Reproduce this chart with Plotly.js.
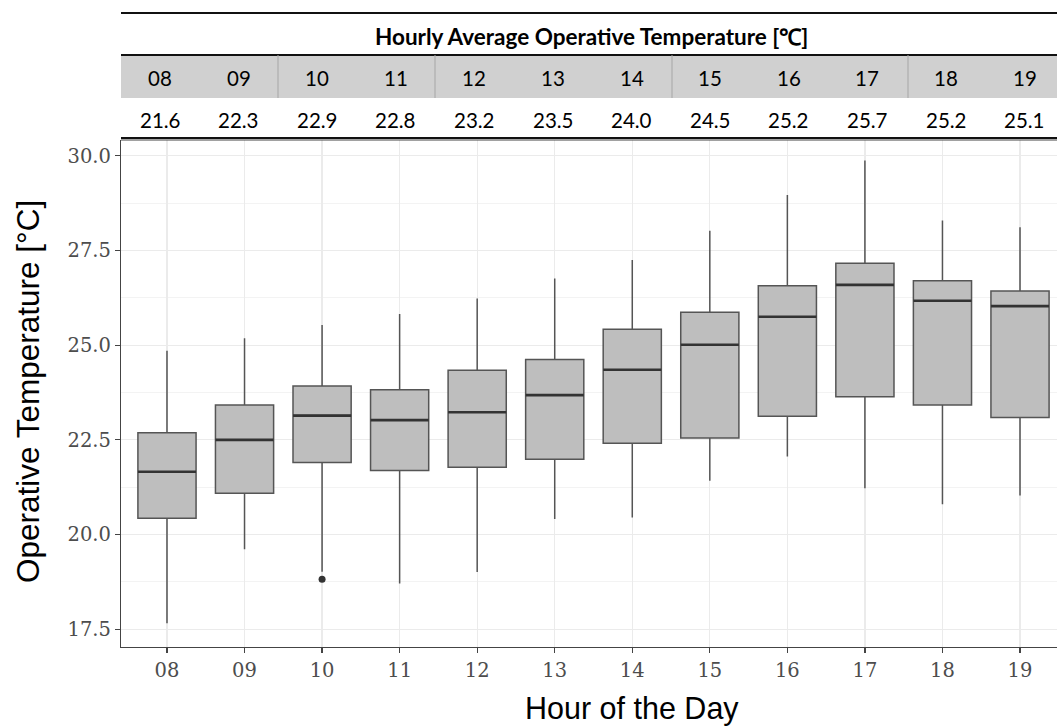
<!DOCTYPE html>
<html><head><meta charset="utf-8">
<script src="https://cdn.plot.ly/plotly-3.0.1.min.js"></script>
<style>html,body{margin:0;padding:0;background:#fff;overflow:hidden}#chart{width:1057px;height:727px}</style>
</head><body><div id="chart"></div>
<script>
// ---- data ----
const hours = ['08','09','10','11','12','13','14','15','16','17','18','19'];
const lowerWhisker = [17.66, 19.61, 19.02, 18.71, 19.01, 20.41, 20.45, 21.42, 22.06, 21.22, 20.80, 21.03];
const q1           = [20.43, 21.09, 21.90, 21.69, 21.78, 21.99, 22.41, 22.55, 23.12, 23.64, 23.42, 23.09];
const median       = [21.66, 22.50, 23.14, 23.02, 23.23, 23.68, 24.35, 25.01, 25.75, 26.59, 26.17, 26.03];
const q3           = [22.69, 23.42, 23.92, 23.82, 24.34, 24.62, 25.42, 25.87, 26.57, 27.16, 26.70, 26.43];
const upperWhisker = [24.85, 25.18, 25.53, 25.82, 26.23, 26.76, 27.25, 28.02, 28.96, 29.87, 28.29, 28.11];
const outlierHours = ['10'];
const outlierValues = [18.82];
const hourlyAverage = [21.6, 22.3, 22.9, 22.8, 23.2, 23.5, 24.0, 24.5, 25.2, 25.7, 25.2, 25.1];
const yTickValues = [17.5, 20, 22.5, 25, 27.5, 30];
const tableTitle = 'Hourly Average Operative Temperature [℃]';

// ---- geometry helpers (pixel -> paper) ----
const W = 1057, H = 727, ML = 121, MR = 0, MT = 140, MB = 80;
const PW = W - ML - MR, PH = H - MT - MB;
const px = v => (v - ML) / PW;
const py = v => (H - MB - v) / PH;

const traces = [
  {
    type: 'box', x: hours, q1: q1, median: median, q3: q3,
    lowerfence: lowerWhisker, upperfence: upperWhisker,
    width: 0.75, whiskerwidth: 0, boxpoints: false,
    fillcolor: '#bebebe', line: {color: '#555555', width: 1.5},
    hoverinfo: 'skip', showlegend: false
  },
  {
    type: 'scatter', mode: 'markers', x: hours, y: median,
    marker: {symbol: 'line-ew', size: 41.5, line: {color: '#333333', width: 2.6}},
    hoverinfo: 'skip', showlegend: false
  },
  {
    type: 'scatter', mode: 'markers', x: outlierHours, y: outlierValues,
    marker: {symbol: 'circle', size: 7, color: '#333333'},
    hoverinfo: 'skip', showlegend: false
  }
];

const shapes = [
  {type:'rect', xref:'paper', yref:'paper', x0:0, x1:1, y0:py(98), y1:py(55), fillcolor:'#d0d0d0', line:{width:0}, layer:'below'},
  {type:'line', xref:'paper', yref:'paper', x0:0, x1:1, y0:py(13), y1:py(13), line:{color:'#111', width:2}},
  {type:'line', xref:'paper', yref:'paper', x0:0, x1:1, y0:py(55), y1:py(55), line:{color:'#111', width:2}},
  {type:'line', xref:'paper', yref:'paper', x0:0, x1:1, y0:py(138), y1:py(138), line:{color:'#111', width:2}},
  {type:'line', xref:'paper', yref:'paper', x0:0, x1:1, y0:1, y1:1, line:{color:'#444', width:1.2}}
];
[278, 435, 672, 908].forEach(d => shapes.push({type:'line', xref:'paper', yref:'paper', x0:px(d), x1:px(d), y0:py(98), y1:py(55), line:{color:'#a6a6a6', width:1}}));

const annotations = [
  {text: '<b>' + tableTitle + '</b>', xref:'paper', yref:'paper', x: px(591), y: py(36), showarrow:false, xanchor:'center', yanchor:'middle', font:{family:'Lato, sans-serif', size:22.5, color:'#000'}},
  {text: 'Hour of the Day', xref:'paper', yref:'paper', x: px(632), y: py(708), showarrow:false, xanchor:'center', yanchor:'middle', font:{family:'Liberation Sans, Arial, sans-serif', size:30.5, color:'#000'}},
  {text: 'Operative Temperature [°C]', xref:'paper', yref:'paper', x: px(28), y: py(392), showarrow:false, textangle:-90, xanchor:'center', yanchor:'middle', font:{family:'Liberation Sans, Arial, sans-serif', size:31.5, color:'#000'}}
];
hours.forEach((h, i) => {
  const cx = 160 + 78.6 * i;
  annotations.push({text: h, xref:'paper', yref:'paper', x: px(cx), y: py(78), showarrow:false, xanchor:'center', yanchor:'middle', font:{family:'Lato, sans-serif', size:20.5, color:'#000'}});
  annotations.push({text: hourlyAverage[i].toFixed(1), xref:'paper', yref:'paper', x: px(cx), y: py(120), showarrow:false, xanchor:'center', yanchor:'middle', font:{family:'Lato, sans-serif', size:20.5, color:'#000'}});
});

const tickFont = {family: 'DejaVu Serif, serif', size: 19.5, color: '#4d4d4d'};
const layout = {
  width: W, height: H,
  margin: {l: ML, r: MR, t: MT, b: MB, pad: 0},
  paper_bgcolor: '#fff', plot_bgcolor: '#fff',
  showlegend: false,
  xaxis: {
    type: 'category', categoryorder: 'array', categoryarray: hours,
    range: [-0.593, 11.477], fixedrange: true,
    showgrid: true, gridcolor: '#ebebeb', gridwidth: 1.2,
    showline: true, linecolor: '#444', linewidth: 1.2, mirror: false,
    ticks: 'outside', ticklen: 5, tickcolor: '#444', tickwidth: 1.2,
    tickfont: tickFont, zeroline: false
  },
  yaxis: {
    range: [17.033, 30.414], fixedrange: true,
    tickvals: yTickValues,
    ticktext: yTickValues.map(v => v.toFixed(1)),
    showgrid: true, gridcolor: '#ebebeb', gridwidth: 1.2,
    minor: {tickvals: [18.75, 21.25, 23.75, 26.25, 28.75], showgrid: true, gridcolor: '#f3f3f3', gridwidth: 1, ticks: ''},
    showline: true, linecolor: '#444', linewidth: 1.2, mirror: false,
    ticks: 'outside', ticklen: 5, tickcolor: '#444', tickwidth: 1.2,
    tickfont: tickFont, zeroline: false
  },
  shapes: shapes,
  annotations: annotations
};

Plotly.newPlot('chart', traces, layout, {displayModeBar: false, staticPlot: true});
</script>
</body></html>
